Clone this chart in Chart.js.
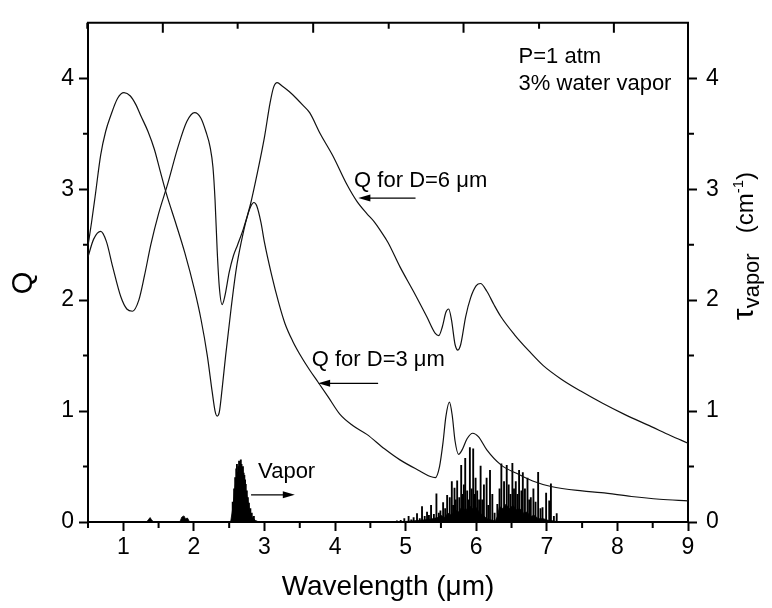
<!DOCTYPE html>
<html>
<head>
<meta charset="utf-8">
<script src="https://cdn.jsdelivr.net/npm/chart.js@4.4.1/dist/chart.umd.min.js"></script>
<style>
  html, body { margin: 0; padding: 0; background: #fff; }
  #wrap { width: 772px; height: 608px; }
</style>
</head>
<body>
<div id="wrap"><canvas id="qchart" width="772" height="608"></canvas></div>
<script>
// Q for D=3 um
const d3X = [0.50, 0.55, 0.60, 0.68, 0.75, 0.82, 0.92, 1.01, 1.10, 1.18, 1.25, 1.35, 1.44, 1.52, 1.61, 1.74, 1.87, 2.01, 2.10, 2.19, 2.26, 2.30, 2.33, 2.36, 2.40, 2.45, 2.53, 2.60, 2.67, 2.75, 2.81, 2.85, 2.89, 2.95, 3.00, 3.10, 3.20, 3.29, 3.40, 3.53, 3.64, 3.76, 3.90, 4.07, 4.25, 4.45, 4.70, 4.92, 5.20, 5.35, 5.42, 5.48, 5.53, 5.57, 5.62, 5.66, 5.70, 5.75, 5.80, 5.87, 5.95, 6.03, 6.15, 6.35, 6.60, 6.80, 7.06, 7.50, 7.77, 8.20, 8.60, 9.00];
const d3Y = [2.49, 2.70, 2.93, 3.31, 3.52, 3.66, 3.82, 3.87, 3.84, 3.76, 3.66, 3.52, 3.36, 3.17, 2.96, 2.70, 2.43, 2.09, 1.83, 1.50, 1.17, 1.00, 0.955, 0.99, 1.20, 1.50, 1.94, 2.28, 2.52, 2.74, 2.85, 2.88, 2.85, 2.70, 2.52, 2.23, 1.98, 1.79, 1.63, 1.48, 1.37, 1.26, 1.13, 0.97, 0.87, 0.79, 0.66, 0.56, 0.46, 0.41, 0.40, 0.50, 0.72, 0.95, 1.08, 0.96, 0.73, 0.61, 0.65, 0.75, 0.80, 0.77, 0.65, 0.515, 0.43, 0.37, 0.32, 0.28, 0.265, 0.23, 0.205, 0.19];

// Q for D=6 um
const d6X = [0.50, 0.58, 0.68, 0.76, 0.85, 0.965, 1.05, 1.13, 1.22, 1.30, 1.39, 1.50, 1.63, 1.77, 1.90, 2.01, 2.10, 2.17, 2.23, 2.27, 2.30, 2.33, 2.36, 2.40, 2.44, 2.50, 2.56, 2.62, 2.70, 2.80, 2.90, 3.00, 3.08, 3.13, 3.18, 3.25, 3.35, 3.45, 3.54, 3.64, 3.79, 3.97, 4.17, 4.31, 4.45, 4.55, 4.65, 4.75, 4.92, 5.11, 5.30, 5.42, 5.47, 5.52, 5.57, 5.61, 5.65, 5.70, 5.74, 5.78, 5.85, 5.92, 6.00, 6.06, 6.15, 6.25, 6.35, 6.54, 6.75, 6.95, 7.20, 7.48, 7.79, 8.10, 8.48, 8.75, 9.00];
const d6Y = [2.39, 2.55, 2.62, 2.53, 2.30, 2.03, 1.92, 1.90, 2.00, 2.22, 2.50, 2.78, 3.05, 3.37, 3.61, 3.69, 3.64, 3.52, 3.38, 3.20, 2.90, 2.45, 2.12, 1.96, 2.04, 2.25, 2.40, 2.50, 2.64, 2.86, 3.15, 3.47, 3.78, 3.92, 3.96, 3.93, 3.88, 3.82, 3.76, 3.69, 3.50, 3.30, 3.04, 2.89, 2.78, 2.71, 2.62, 2.52, 2.30, 2.08, 1.85, 1.70, 1.68, 1.76, 1.89, 1.92, 1.82, 1.60, 1.55, 1.60, 1.85, 2.02, 2.13, 2.15, 2.08, 1.96, 1.85, 1.69, 1.54, 1.41, 1.29, 1.18, 1.07, 0.97, 0.86, 0.78, 0.71];

// water vapour absorption: dense low part (filled) and individual lines
const bandX = [0.50, 1.33, 1.36, 1.38, 1.40, 1.43, 1.80, 1.83, 1.86, 1.88, 1.91, 1.94, 2.52, 2.55, 2.58, 2.60, 2.62, 2.64, 2.65, 2.66, 2.68, 2.70, 2.72, 2.74, 2.76, 2.78, 2.80, 2.83, 2.87, 2.92, 4.80, 5.00, 5.20, 5.35, 5.45, 5.50, 5.55, 5.60, 5.65, 5.70, 5.75, 5.80, 5.85, 5.90, 5.95, 6.00, 6.05, 6.10, 6.15, 6.20, 6.27, 6.30, 6.33, 6.38, 6.42, 6.47, 6.52, 6.57, 6.62, 6.67, 6.72, 6.77, 6.82, 6.88, 6.95, 7.02, 7.10, 7.16, 9.00];
const bandY = [0, 0, 0.025, 0.04, 0.02, 0, 0, 0.045, 0.055, 0.03, 0.035, 0, 0, 0.12, 0.30, 0.40, 0.38, 0.42, 0.25, 0.45, 0.42, 0.38, 0.33, 0.27, 0.20, 0.13, 0.08, 0.04, 0.015, 0, 0, 0.005, 0.015, 0.025, 0.04, 0.06, 0.04, 0.08, 0.06, 0.11, 0.09, 0.14, 0.10, 0.15, 0.12, 0.13, 0.08, 0.06, 0.03, 0.02, 0.01, 0.05, 0.14, 0.12, 0.16, 0.12, 0.15, 0.11, 0.12, 0.08, 0.09, 0.05, 0.06, 0.03, 0.03, 0.015, 0.01, 0, 0];

const lineX = [2.55, 2.57, 2.585, 2.60, 2.61, 2.62, 2.63, 2.64, 2.655, 2.665, 2.675, 2.685, 2.695, 2.705, 2.715, 2.725, 2.735, 2.75, 2.765, 2.78, 2.80, 2.82, 2.85,
  4.876, 4.93, 4.981, 5.042, 5.08, 5.113, 5.161, 5.20, 5.232, 5.27, 5.303, 5.33, 5.36, 5.40, 5.436, 5.47, 5.493, 5.531, 5.56, 5.588, 5.625, 5.654, 5.672, 5.692, 5.71, 5.73, 5.76, 5.787, 5.80, 5.825, 5.844, 5.872, 5.89, 5.91, 5.935, 5.957, 5.975, 5.991, 6.014, 6.04, 6.062, 6.085, 6.109, 6.147, 6.17, 6.195, 6.228, 6.26, 6.299, 6.33, 6.356, 6.394, 6.432, 6.46, 6.485, 6.512, 6.535, 6.56, 6.585, 6.607, 6.64, 6.66, 6.69, 6.726, 6.75, 6.773, 6.81, 6.84, 6.877, 6.91, 6.939, 6.99, 7.034, 7.058, 7.10, 7.14];
const lineY = [0.18, 0.30, 0.40, 0.48, 0.52, 0.45, 0.50, 0.55, 0.35, 0.56, 0.52, 0.47, 0.50, 0.44, 0.42, 0.38, 0.34, 0.28, 0.22, 0.17, 0.12, 0.08, 0.05,
  0.01, 0.015, 0.03, 0.05, 0.02, 0.04, 0.075, 0.03, 0.14, 0.05, 0.09, 0.06, 0.15, 0.07, 0.255, 0.08, 0.10, 0.175, 0.12, 0.24, 0.22, 0.365, 0.15, 0.305, 0.20, 0.37, 0.22, 0.51, 0.25, 0.335, 0.575, 0.28, 0.20, 0.67, 0.30, 0.66, 0.25, 0.395, 0.28, 0.20, 0.505, 0.20, 0.335, 0.395, 0.15, 0.465, 0.25, 0.08, 0.16, 0.30, 0.525, 0.365, 0.51, 0.335, 0.25, 0.53, 0.30, 0.365, 0.25, 0.465, 0.28, 0.445, 0.30, 0.395, 0.20, 0.22, 0.30, 0.18, 0.448, 0.12, 0.13, 0.26, 0.19, 0.343, 0.05, 0.076];

const xMinor = [0.5, 1.5, 2.5, 3.5, 4.5, 5.5, 6.5, 7.5, 8.5];
const yMinor = [0.5, 1.5, 2.5, 3.5];
// mirrored top axis (unlabelled, its own spacing)
const topMajor = [1.56, 3.69, 5.82, 7.95];
const topMinor = [0.49, 2.62, 4.76, 6.89];

const FONT = '"Liberation Sans", Arial, sans-serif';

function pts(xs, ys) {
  return xs.map((x, i) => ({ x: x, y: ys[i] }));
}

function arrow(ctx, x1, y1, x2, y2) {
  const dir = Math.sign(x2 - x1);
  ctx.beginPath();
  ctx.moveTo(x1, y1);
  ctx.lineTo(x2 - dir * 8, y2);
  ctx.stroke();
  ctx.beginPath();
  ctx.moveTo(x2, y2);
  ctx.lineTo(x2 - dir * 12, y2 - 3.5);
  ctx.lineTo(x2 - dir * 12, y2 + 3.5);
  ctx.closePath();
  ctx.fill();
}

const decor = {
  id: 'decor',
  afterDraw(chart) {
    const ctx = chart.ctx;
    const a = chart.chartArea;
    const xs = chart.scales.x, ys = chart.scales.y;
    ctx.save();
    ctx.strokeStyle = '#000';
    ctx.fillStyle = '#000';
    ctx.lineWidth = 2;
    // top frame line and inward ticks
    ctx.beginPath();
    ctx.moveTo(a.left - 1, a.top);
    ctx.lineTo(a.right + 1, a.top);
    topMajor.forEach(v => { const p = xs.getPixelForValue(v); ctx.moveTo(p, a.top); ctx.lineTo(p, a.top + 10); });
    topMinor.forEach(v => { const p = xs.getPixelForValue(v); ctx.moveTo(p, a.top); ctx.lineTo(p, a.top + 6); });
    // minor ticks
    xMinor.forEach(v => { const p = xs.getPixelForValue(v); ctx.moveTo(p, a.bottom); ctx.lineTo(p, a.bottom + 6); });
    yMinor.forEach(v => {
      const p = ys.getPixelForValue(v);
      ctx.moveTo(a.left, p); ctx.lineTo(a.left - 5, p);
      ctx.moveTo(a.right, p); ctx.lineTo(a.right + 6, p);
    });
    ctx.stroke();

    // annotations
    ctx.lineWidth = 1.2;
    ctx.font = '22px ' + FONT;
    ctx.textBaseline = 'middle';
    ctx.textAlign = 'left';
    const X = v => xs.getPixelForValue(v), Y = v => ys.getPixelForValue(v);
    ctx.fillText('P=1 atm', X(6.60), Y(4.19));
    ctx.fillText('3% water vapor', X(6.60), Y(3.95));
    ctx.fillText('Q for D=6 \u03bcm', X(4.27), Y(3.07));
    arrow(ctx, X(5.14), Y(2.92), X(4.33), Y(2.92));
    ctx.fillText('Q for D=3 \u03bcm', X(3.67), Y(1.46));
    arrow(ctx, X(4.61), Y(1.25), X(3.76), Y(1.25));
    ctx.fillText('Vapor', X(2.91), Y(0.454));
    arrow(ctx, X(2.81), Y(0.245), X(3.43), Y(0.245));

    // left axis title
    ctx.save();
    ctx.translate(24, 283);
    ctx.rotate(-Math.PI / 2);
    ctx.textAlign = 'center';
    ctx.font = '29px ' + FONT;
    ctx.fillText('Q', 0, 0);
    ctx.restore();

    // right axis title with sub/superscript, ending near the top
    const parts = [
      { t: '\u03c4', f: 30, dy: 0 },
      { t: 'vapor', f: 22, dy: 6 },
      { t: '   (cm', f: 24, dy: 0 },
      { t: '-1', f: 15, dy: -10 },
      { t: ')', f: 24, dy: 0 }
    ];
    let total = 0;
    parts.forEach(p => { ctx.font = p.f + 'px ' + FONT; p.w = ctx.measureText(p.t).width; total += p.w; });
    ctx.save();
    ctx.translate(753, 172 + total);
    ctx.rotate(-Math.PI / 2);
    ctx.textAlign = 'left';
    ctx.textBaseline = 'alphabetic';
    let cx = 0;
    parts.forEach(p => { ctx.font = p.f + 'px ' + FONT; ctx.fillText(p.t, cx, p.dy); cx += p.w; });
    ctx.restore();
    ctx.restore();
  }
};

function axisY(pos, width, pad) {
  return {
    type: 'linear',
    position: pos,
    min: 0,
    max: 4.5,
    afterFit: s => { s.width = width; },
    border: { display: true, color: '#000', width: 2 },
    grid: { drawOnChartArea: false, drawTicks: true, tickLength: 9, tickWidth: 2, tickColor: '#000' },
    ticks: { stepSize: 1, includeBounds: false, color: '#000', padding: pad, font: { family: FONT, size: 23 } }
  };
}

new Chart(document.getElementById('qchart').getContext('2d'), {
  type: 'line',
  data: {
    datasets: [
      { label: 'Q for D=3 um', data: pts(d3X, d3Y), borderColor: '#111', borderWidth: 1.2, pointRadius: 0, cubicInterpolationMode: 'monotone', fill: false, order: 1 },
      { label: 'Q for D=6 um', data: pts(d6X, d6Y), borderColor: '#111', borderWidth: 1.2, pointRadius: 0, cubicInterpolationMode: 'monotone', fill: false, order: 1 },
      { label: 'vapor band', data: pts(bandX, bandY), borderColor: '#000', borderWidth: 0.8, backgroundColor: '#000', pointRadius: 0, tension: 0, fill: 'origin', order: 3 },
      { type: 'bar', label: 'vapor lines', data: pts(lineX, lineY), backgroundColor: '#000', barThickness: 1.2, order: 2 }
    ]
  },
  options: {
    responsive: false,
    animation: false,
    layout: { padding: { top: 7, left: 0, right: 0, bottom: 0 } },
    plugins: { legend: { display: false }, tooltip: { enabled: false } },
    scales: {
      x: {
        type: 'linear',
        min: 0.5,
        max: 9,
        offset: false,
        afterFit: s => { s.height = 86; },
        border: { display: true, color: '#000', width: 2 },
        grid: { drawOnChartArea: false, drawTicks: true, tickLength: 9, tickWidth: 2, tickColor: '#000', offset: false },
        ticks: { stepSize: 1, includeBounds: false, color: '#000', padding: 3, maxRotation: 0, font: { family: FONT, size: 23 } },
        title: { display: true, text: 'Wavelength (\u03bcm)', color: '#000', font: { family: FONT, size: 28 }, padding: { top: 0, bottom: 4 } }
      },
      y: axisY('left', 88, 5),
      y2: axisY('right', 84, 9)
    }
  },
  plugins: [decor]
});
</script>
</body>
</html>
